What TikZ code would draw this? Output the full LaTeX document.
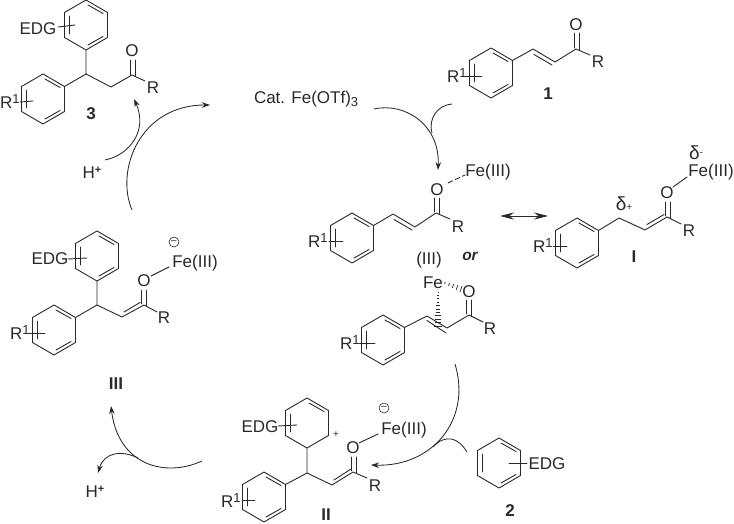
\documentclass[tikz,border=0pt]{standalone}
\usepackage{fontspec}
\setmainfont{Liberation Sans}
\usetikzlibrary{arrows.meta}
\definecolor{ink}{HTML}{2B2829}
\tikzset{
  bond/.style={draw=ink,line width=0.9bp,line cap=round,line join=round},
  curvearrow/.style={draw=ink,line width=0.85bp,-{Stealth[length=8bp,width=5.5bp]}},
  curveline/.style={draw=ink,line width=0.85bp},
  twoheads/.style={draw=ink,line width=0.85bp,{Stealth[length=14bp,width=7bp]}-{Stealth[length=14bp,width=7bp]}},
  chem/.style={inner sep=0pt,outer sep=0pt,text=ink,font=\fontsize{17bp}{18bp}\selectfont},
  cmpd/.style={chem,font=\fontsize{17bp}{18bp}\selectfont\bfseries},
  minusmark/.style={circle,draw=ink,line width=0.6bp,minimum size=10bp,inner sep=0pt,text=ink,font=\fontsize{10bp}{10bp}\selectfont}
}
% full benzene ring
\newcommand{\hexa}[2]{\draw[bond] (#1,#2-25) -- (#1+21.5,#2-12.5) -- (#1+21.5,#2+12.5) -- (#1,#2+25) -- (#1-21.5,#2+12.5) -- (#1-21.5,#2-12.5) -- cycle;}
\newcommand{\innerleft}[2]{\draw[bond] (#1-17,#2-9) -- (#1-17,#2+9);}
\newcommand{\innertop}[2]{\draw[bond] (#1+2,#2-20) -- (#1+17,#2-11.5);}
\newcommand{\innerlow}[2]{\draw[bond] (#1+17,#2+11.5) -- (#1+2,#2+20);}
\newcommand{\benz}[2]{\hexa{#1}{#2}\innerleft{#1}{#2}\innertop{#1}{#2}\innerlow{#1}{#2}}
% R1 label, x and y being the centre of the letter R
\newcommand{\Rone}[3]{\node[chem,anchor=base west] (#3) at (#1-6,#2+6) {R\raisebox{5bp}{\fontsize{13bp}{13bp}\selectfont 1}};}
\begin{document}
\begin{tikzpicture}[x=1bp,y=-1bp]
\useasboundingbox (0,0) rectangle (734,524);

% ---------- compound 3 ----------
\benz{86}{25}
\benz{43}{99}
\draw[bond] (86,50) -- (86,74) -- (64.5,86.5);
\draw[bond] (86,74) -- (111,87) -- (132,75) -- (145,81);
\draw[bond] (130,60) -- (130,75); \draw[bond] (135,60) -- (135,76);
\draw[bond] (58,27) -- (75,25);
\draw[bond] (20,102) -- (33,101);
\node[chem] (edgc) at (38,29) {EDG};
\node[chem] (oc) at (132,51) {O};
\node[chem] (rc) at (153,88) {R};
\Rone{6}{103}{roc}
\node[cmpd] (lc) at (91,114) {3};
\node[chem,anchor=base] (hc) at (92,179) {H\raisebox{5bp}{\fontsize{11bp}{12bp}\selectfont\bfseries +}};

% arrows top left
\coordinate (a1s) at (105,160);
\coordinate (a1e) at (134,99);
\draw[curvearrow] (a1s) .. controls (130,155) and (148,130) .. (a1e);
\coordinate (a2s) at (132,210);
\coordinate (a2e) at (210,105);
\draw[curvearrow] (a2s) .. controls (115,170) and (140,105) .. (a2e);

% catalyst
\node[chem,anchor=base west] (cat) at (254,104) {Cat. Fe(OTf)\raisebox{-3bp}{\fontsize{13bp}{13bp}\selectfont 3}};

% ---------- compound 1 ----------
\benz{491}{73}
\draw[bond] (512.5,60.5) -- (533,49) -- (555,62) -- (576,49) -- (590,55);
\draw[bond] (534,54.5) -- (552,65);
\draw[bond] (574,33) -- (574,48); \draw[bond] (579,33) -- (579,50);
\draw[bond] (465,76) -- (482,76);
\node[chem] (ob) at (576,25) {O};
\node[chem] (rb) at (598,62) {R};
\Rone{453}{77}{rob}
\node[cmpd] (lb) at (548,94) {1};

% arrows into the complex
\coordinate (a3s) at (374,109);
\coordinate (a3e) at (438,170);
\draw[curvearrow] (a3s) .. controls (405,102) and (440,125) .. (a3e);
\coordinate (a4s) at (452,104);
\coordinate (a4e) at (432,133);
\draw[curveline] (a4s) .. controls (438,105) and (428,118) .. (a4e);

% ---------- complex ----------
\benz{352}{238}
\draw[bond] (373.5,225.5) -- (393,214) -- (415,227) -- (436,213) -- (450,219);
\draw[bond] (394,219.5) -- (412,230);
\draw[bond] (434,198) -- (434,212); \draw[bond] (439,198) -- (439,214);
\draw[bond,dash pattern=on 5bp off 3bp] (448,183) -- (465,175);
\draw[bond] (329,241) -- (343,241);
\node[chem] (od) at (437,190) {O};
\node[chem] (red) at (458,227) {R};
\node[chem] (fed) at (488,172) {Fe(III)};
\Rone{314}{242}{rod}

% resonance arrow
\coordinate (ra) at (500,216);
\coordinate (rb2) at (548,216);
\draw[twoheads] (ra) -- (rb2);

% ---------- I ----------
\benz{577}{243}
\draw[bond] (598.5,230.5) -- (619,218) -- (645,230) -- (667,217) -- (681,224);
\draw[bond] (647,224.5) -- (664,214.5);
\draw[bond] (665,202) -- (665,216); \draw[bond] (670,202) -- (670,218);
\draw[bond] (673,187) -- (687,177);
\draw[bond] (553,246) -- (567,246);
\node[chem] (oi) at (667,193) {O};
\node[chem] (ri) at (689,231) {R};
\node[chem] (fei) at (711,172) {Fe(III)};
\node[chem] (dm) at (696,153) {{\fontsize{19bp}{19bp}\selectfont δ}\raisebox{4bp}{\fontsize{10bp}{10bp}\selectfont -}};
\node[chem] (dp) at (624,204) {{\fontsize{19bp}{19bp}\selectfont δ}{\fontsize{10bp}{10bp}\selectfont +}};
\Rone{539}{247}{roi}
\node[cmpd] (li) at (634,257) {I};

% or
\node[chem,font=\fontsize{15.5bp}{16bp}\selectfont\bfseries\itshape] (orl) at (470,256) {or};

% ---------- pi complex ----------
\node[chem] (iiil) at (429,260) {(III)};
\node[chem] (fep) at (433,283) {Fe};
\node[chem] (op) at (469,292) {O};
\benz{383}{340}
\draw[bond] (404.5,327.5) -- (427,316) -- (447,328) -- (469,315) -- (483,322);
\draw[bond] (427,320.5) -- (446,333);
\draw[bond] (466.5,300) -- (466.5,314); \draw[bond] (471.5,300) -- (471.5,316);
\draw[bond] (359,343) -- (375,343);
\node[chem] (rp) at (490,329) {R};
\Rone{346}{343}{rop}
\foreach \i in {0,...,10} {
  \draw[ink,line width=0.7bp] ({438-0.4-0.32*\i},{292+3.4*\i}) -- ({438+0.4+0.32*\i},{292+3.4*\i});
}
\foreach \i in {0,...,4} {
  \draw[ink,line width=0.7bp] ({445+4*\i+0.3+0.17*\i},{283+1.5*\i-1-0.45*\i}) -- ({445+4*\i-0.3-0.17*\i},{283+1.5*\i+1+0.45*\i});
}

% arrow to II
\coordinate (a5s) at (455,364);
\coordinate (a5e) at (371,465);
\draw[curvearrow] (a5s) .. controls (472,420) and (432,467) .. (a5e);
\coordinate (a6s) at (467,452);
\coordinate (a6e) at (433,447);
\draw[curveline] (a6s) .. controls (458,437) and (445,434) .. (a6e);

% ---------- 2 ----------
\benz{499}{463}
\draw[bond] (509,463) -- (527,463);
\node[chem] (edg2) at (547,464) {EDG};
\node[cmpd] (l2) at (510,511) {2};

% ---------- II ----------
\hexa{307}{423}
\innerleft{307}{423}
\innertop{307}{423}
\benz{264}{497}
\draw[bond] (307,448) -- (307,473) -- (285.5,484.5);
\draw[bond] (307,473) -- (332,485) -- (353,472) -- (367,478);
\draw[bond] (334,480) -- (351,469);
\draw[bond] (351,457) -- (351,471); \draw[bond] (356,457) -- (356,473);
\draw[bond] (359,443) -- (378,434);
\draw[bond] (278,426) -- (297,425);
\draw[bond] (243,500) -- (255,500);
\node[chem] (edg3) at (260,427) {EDG};
\node[chem,font=\fontsize{10bp}{10bp}\selectfont] (plus) at (336,435) {+};
\node[minusmark] (mii) at (384,408) {–};
\node[chem] (oii) at (353,448) {O};
\node[chem] (rii) at (375,486) {R};
\node[chem] (feii) at (404,430) {Fe(III)};
\Rone{227}{501}{roii}
\node[cmpd] (lii) at (326,514.5) {II};

% arrows to III
\coordinate (a7s) at (202,461);
\coordinate (a7e) at (111,406);
\draw[curvearrow] (a7s) .. controls (165,478) and (118,465) .. (a7e);
\coordinate (a8s) at (138,458);
\coordinate (a8e) at (98,473);
\draw[curvearrow] (a8s) .. controls (122,450) and (104,452) .. (a8e);
\node[chem,anchor=base] (h2) at (95,497) {H\raisebox{5bp}{\fontsize{11bp}{12bp}\selectfont\bfseries +}};

% ---------- III ----------
\benz{97}{256}
\benz{54}{330}
\draw[bond] (97,281) -- (97,305) -- (75.5,317.5);
\draw[bond] (97,305) -- (122,317) -- (144,305) -- (157,312);
\draw[bond] (124,312) -- (140,302.5);
\draw[bond] (141.5,290) -- (141.5,304); \draw[bond] (146.5,290) -- (146.5,306);
\draw[bond] (151,276) -- (169,267);
\draw[bond] (68,259) -- (87,258);
\draw[bond] (28,333) -- (45,333);
\node[chem] (edg4) at (50,259) {EDG};
\node[minusmark] (miii) at (174,242) {–};
\node[chem] (oiii) at (144,281) {O};
\node[chem] (riii) at (164,318) {R};
\node[chem] (feiii) at (195,263) {Fe(III)};
\Rone{16}{333}{roiii}
\node[cmpd] (liii) at (116,384) {III};
\end{tikzpicture}
\end{document}
